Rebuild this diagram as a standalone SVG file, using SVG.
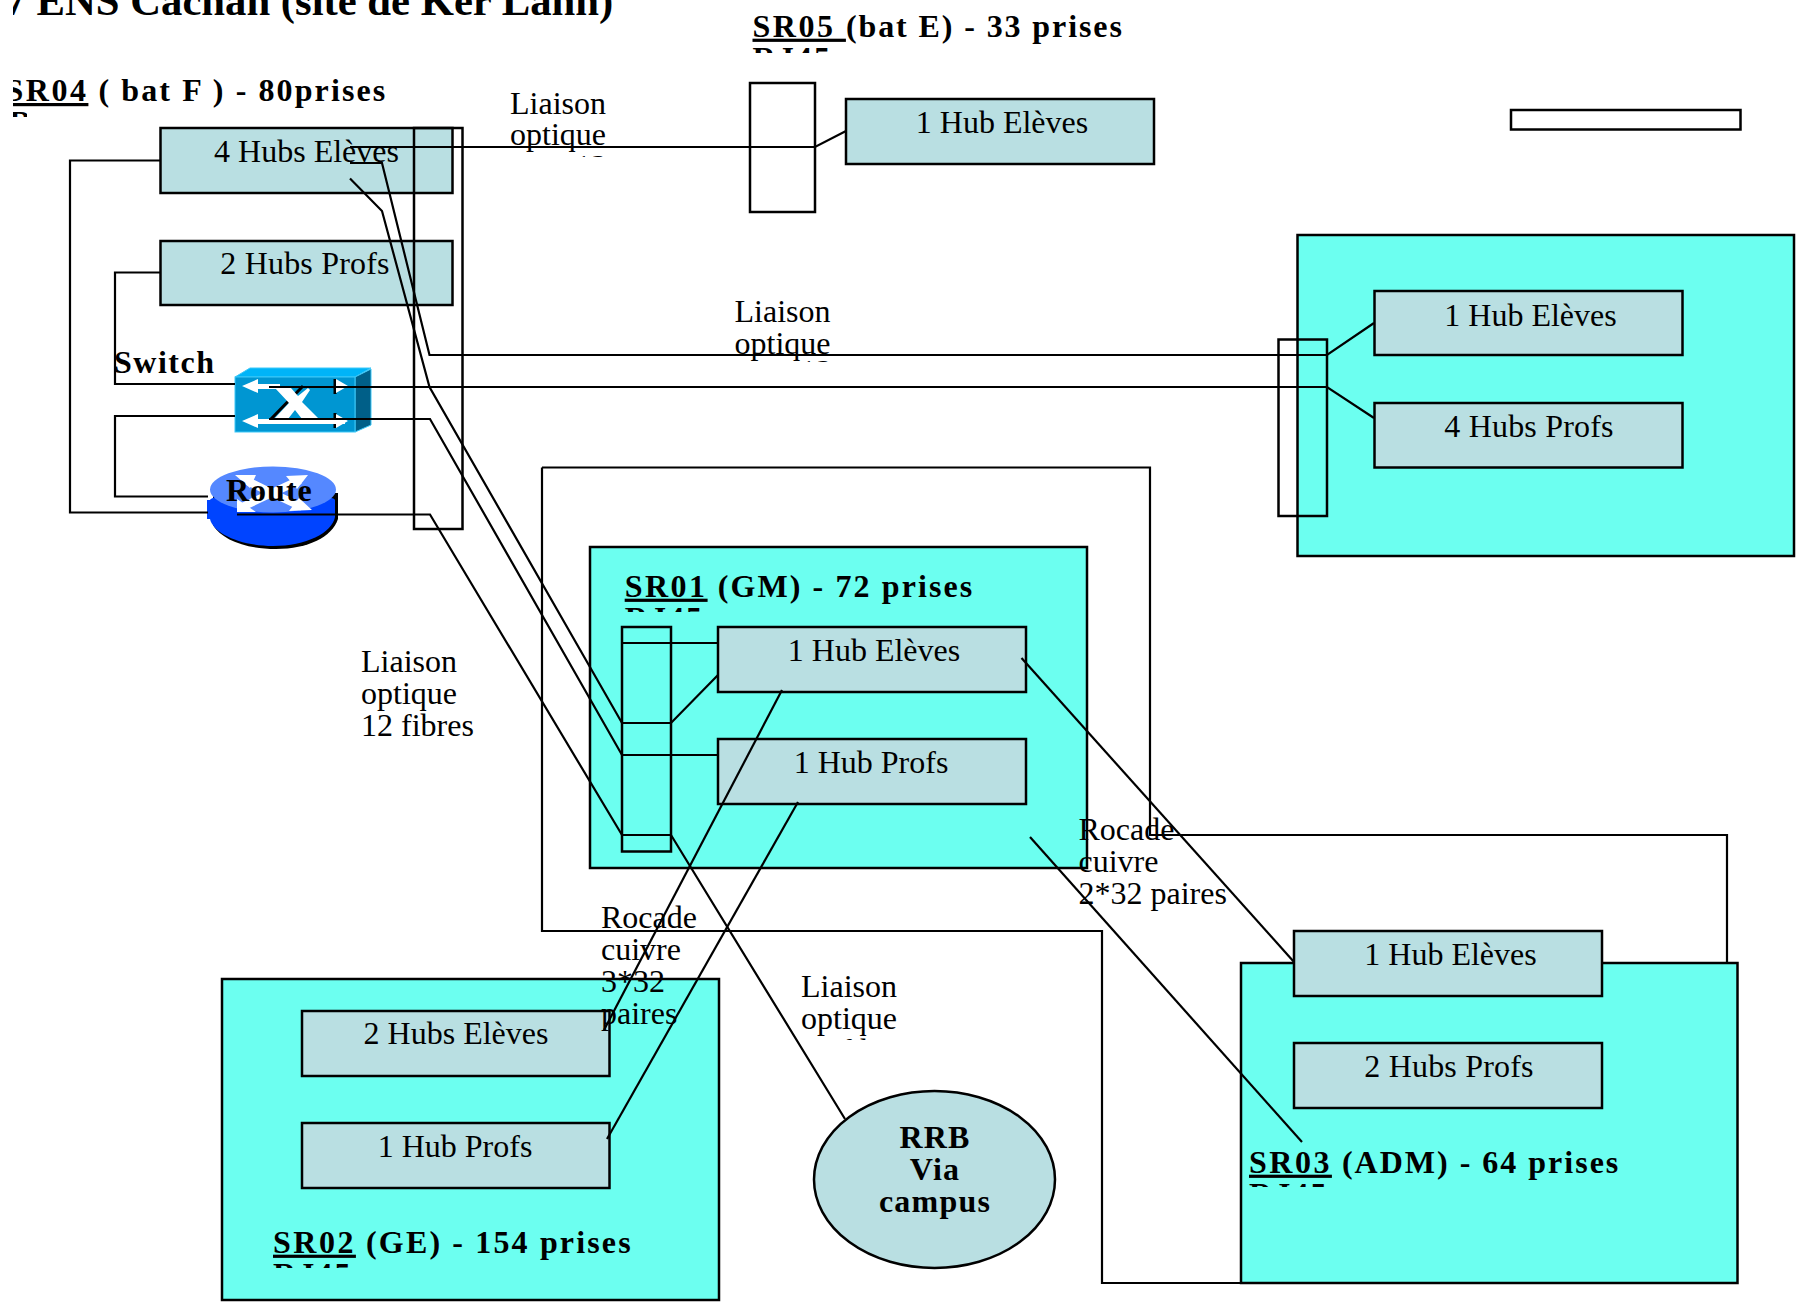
<svg xmlns="http://www.w3.org/2000/svg" width="1797" height="1302" viewBox="0 0 1797 1302">
<style>
text{font-family:"Liberation Serif","Times New Roman",serif;font-size:32px;fill:#000}
.b{font-weight:bold;letter-spacing:2.100px}
.m{text-anchor:middle}
.w{letter-spacing:.2px}
.hub{fill:#b9dfe2;stroke:#000;stroke-width:2.5}
.blk{fill:#6cfff0;stroke:#000;stroke-width:2.5}
.box{fill:none;stroke:#000;stroke-width:2.5}
.c{fill:none;stroke:#000;stroke-width:2.2}
.u{text-decoration:underline;letter-spacing:2.500px}
</style>
<defs>
<clipPath id="cT"><rect x="13" y="0" width="700" height="60"/></clipPath>
<clipPath id="c4"><rect x="13" y="60" width="500" height="57"/></clipPath>
<clipPath id="c4b"><rect x="13" y="110" width="14" height="7"/></clipPath>
<clipPath id="c5"><rect x="740" y="0" width="500" height="53"/></clipPath>
<clipPath id="c1"><rect x="600" y="560" width="450" height="52"/></clipPath>
<clipPath id="c2"><rect x="250" y="1220" width="450" height="48"/></clipPath>
<clipPath id="c3"><rect x="1245" y="1140" width="450" height="47"/></clipPath>
<clipPath id="cL1"><rect x="570" y="150" width="36" height="7"/></clipPath>
<clipPath id="cL2"><rect x="795" y="355" width="36" height="7"/></clipPath>
<clipPath id="cL4"><rect x="795" y="1030" width="200" height="10"/></clipPath>
</defs>

<g id="title"><text class="b" clip-path="url(#cT)" x="4.5" y="14.5" style="font-size:42.700px;letter-spacing:0">7 ENS Cachan (site de Ker Lann)</text></g>

<g id="backbone"><path class="c" d="M542 467.500H1150V835H1727V963M542 467.500V931H1102V1283H1241"/></g>

<g id="sr04">
<text class="b" clip-path="url(#c4)" xml:space="preserve" x="5.500" y="101"><tspan class="u">SR04</tspan> ( bat F ) - 80prises</text>
<text class="b" clip-path="url(#c4b)" x="9" y="133">RJ45</text>
<g id="sr04-hub-eleves"><rect class="hub" x="160.500" y="128" width="292" height="65"/><text class="m" x="306.500" y="161.500">4 Hubs Elèves</text></g>
<g id="sr04-hub-profs"><rect class="hub" x="160.500" y="241" width="292" height="64"/><text class="m w" x="305" y="273.500">2 Hubs Profs</text></g>
<rect id="sr04-patch" class="box" x="414" y="128" width="48.500" height="401"/>
</g>

<g id="switch">
<path d="M235 377L250 368H371L355 377Z" fill="#00b4f8" stroke="#3cc8f8"/>
<path d="M355 377L371 369V425L355 432Z" fill="#005f88" stroke="#3cc8f8"/>
<rect x="235" y="377" width="120" height="55" fill="#0096d2" stroke="#3cc8f8"/>
<path d="M271 419L303 386M335 379V394M335 413V428" stroke="#000" stroke-width="3" fill="none"/>
<path d="M242 386L258 379V384H280V389H258V393ZM242 421L258 414V419H345V424H258V428Z" fill="#fff"/>
<path d="M275 388H291L298 396L308 388L310 390L302 402L319 419H302L295 410L288 419H274L289 403Z" fill="#fff"/>
<path d="M336 379L348 386L336 393ZM336 414L348 421L336 428Z" fill="#fff"/>
</g>

<g id="router">
<path d="M213 500V525C222 540 246 549 276 549C308 549 332 537 338 519V493H213Z" fill="#000"/>
<path d="M207 500H210C211 492 334 492 335 500V517C332 533 306 546 273 546C240 546 213 533 210 519H207Z" fill="#0044ff"/>
<ellipse cx="273" cy="489.500" rx="63" ry="23" fill="#5588ff"/>
<g fill="none" stroke="#fff" stroke-width="8"><path d="M243 479L272 493L300 480"/><path d="M272 493L240 508M272 493L302 507"/></g>
<path d="M235 475H256L250 488ZM308 475L297 489L286 476ZM237 499V512H256ZM312 510L289 511L299 498Z" fill="#fff"/>
<text class="b" x="226" y="501" style="letter-spacing:1px">Route</text>
</g>

<g id="sr05">
<text class="b" clip-path="url(#c5)" xml:space="preserve" x="752.500" y="36.700" style="letter-spacing:1.900px"><tspan class="u">SR05 </tspan>(bat E) - 33 prises</text>
<text class="b" clip-path="url(#c5)" x="752.500" y="69">RJ45</text>
<rect id="sr05-patch" class="box" x="750" y="83" width="65" height="129"/>
<g id="sr05-hub"><rect class="hub" x="846" y="99" width="308" height="65"/><text class="m" x="1002" y="132.700">1 Hub Elèves</text></g>
</g>

<rect id="blank-box" class="box" x="1511" y="110" width="229.500" height="19.500"/>

<g id="right-block">
<rect class="blk" x="1297.500" y="235" width="496.500" height="321"/>
<g id="right-hub-eleves"><rect class="hub" x="1374.500" y="291" width="308" height="64"/><text class="m" x="1530.500" y="326">1 Hub Elèves</text></g>
<g id="right-hub-profs"><rect class="hub" x="1374.500" y="403" width="308" height="64.500"/><text class="m w" x="1529" y="437">4 Hubs Profs</text></g>
<rect id="right-patch" class="box" x="1278.500" y="339.500" width="48.500" height="176.500"/>
</g>

<g id="sr01">
<rect class="blk" x="590" y="547" width="497" height="321"/>
<text class="b" clip-path="url(#c1)" xml:space="preserve" x="624.700" y="596.700"><tspan class="u">SR01</tspan> (GM) - 72 prises</text>
<text class="b" clip-path="url(#c1)" x="624.700" y="629">RJ45</text>
<g id="sr01-hub-eleves"><rect class="hub" x="718" y="627" width="308" height="65"/><text class="m" x="874" y="661">1 Hub Elèves</text></g>
<g id="sr01-hub-profs"><rect class="hub" x="718" y="739" width="308" height="65"/><text class="m" x="871" y="773">1 Hub Profs</text></g>
<rect id="sr01-patch" class="box" x="622" y="627" width="49" height="224.500"/>
</g>

<g id="sr02">
<rect class="blk" x="222" y="979" width="497" height="321"/>
<g id="sr02-hub-eleves"><rect class="hub" x="302" y="1011" width="307.500" height="65"/><text class="m" x="456" y="1044">2 Hubs Elèves</text></g>
<g id="sr02-hub-profs"><rect class="hub" x="302" y="1123" width="307.500" height="65"/><text class="m" x="455" y="1157">1 Hub Profs</text></g>
<text class="b" clip-path="url(#c2)" xml:space="preserve" x="273" y="1252.700" style="letter-spacing:2.150px"><tspan class="u">SR02</tspan> (GE) - 154 prises</text>
<text class="b" clip-path="url(#c2)" x="273" y="1285">RJ45</text>
</g>

<g id="sr03">
<rect class="blk" x="1241" y="963" width="496.500" height="320"/>
<g id="sr03-hub-eleves"><rect class="hub" x="1294" y="931" width="308" height="65"/><text class="m" x="1450.500" y="965">1 Hub Elèves</text></g>
<g id="sr03-hub-profs"><rect class="hub" x="1294" y="1043" width="308" height="65"/><text class="m w" x="1449" y="1077">2 Hubs Profs</text></g>
<text class="b" clip-path="url(#c3)" xml:space="preserve" x="1249" y="1172.700" style="letter-spacing:2px"><tspan class="u">SR03</tspan> (ADM) - 64 prises</text>
<text class="b" clip-path="url(#c3)" x="1249" y="1205">RJ45</text>
</g>

<g id="rrb">
<ellipse cx="934.500" cy="1179.500" rx="120.500" ry="88.500" fill="#b9dfe2" stroke="#000" stroke-width="2.500"/>
<text class="b m" x="935" y="1148" style="letter-spacing:1.200px">RRB</text>
<text class="b m" x="935" y="1180" style="letter-spacing:1.200px">Via</text>
<text class="b m" x="935" y="1212" style="letter-spacing:1.200px">campus</text>
</g>

<g id="connectors">
<path class="c" d="M160 160.500H70V512.500H208"/>
<path class="c" d="M160 272.500H115V384H235"/>
<path class="c" d="M235 416H115V496.500H208"/>
<path class="c" d="M350 147H815L846 131"/>
<path class="c" d="M350 163H382L429.500 355H1327L1374 323"/>
<path class="c" d="M350 178.500L382 211L429.500 387L622 723H671L718 675"/>
<path class="c" d="M269 387H1327L1374 418"/>
<path class="c" d="M269 419H430L622 755H718"/>
<path class="c" d="M237 514.500H430L622 835H671L845 1119"/>
<path class="c" d="M622 643H718"/>
<path class="c" d="M782 690L604 1030"/>
<path class="c" d="M798 802L607 1139"/>
<path class="c" d="M1021.500 658L1294 962"/>
<path class="c" d="M1030 837L1302 1142"/>
</g>

<g id="labels">
<text x="510" y="113.500">Liaison</text>
<text x="510" y="145">optique</text>
<text clip-path="url(#cL1)" x="575" y="177">12 fibres</text>
<text x="734.500" y="322">Liaison</text>
<text x="734.500" y="354">optique</text>
<text clip-path="url(#cL2)" x="800" y="382">12 fibres</text>
<text x="361" y="672">Liaison</text>
<text x="361" y="704">optique</text>
<text x="361" y="736">12 fibres</text>
<text x="601" y="928">Rocade</text>
<text x="601" y="960">cuivre</text>
<text x="601" y="992">3*32</text>
<text x="601" y="1024">paires</text>
<text x="801" y="997">Liaison</text>
<text x="801" y="1029">optique</text>
<text clip-path="url(#cL4)" x="801" y="1061">12 fibres</text>
<text x="1078.500" y="840">Rocade</text>
<text x="1078.500" y="872">cuivre</text>
<text x="1078.500" y="904">2*32 paires</text>
<text class="b" x="114" y="372.500" style="letter-spacing:1.500px">Switch</text>
</g>
</svg>
